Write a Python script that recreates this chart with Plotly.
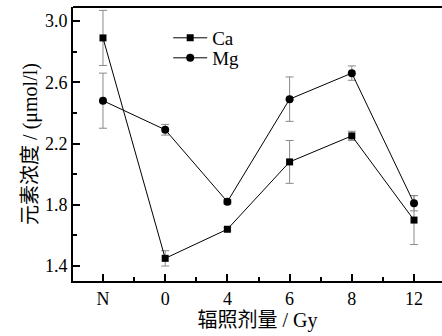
import plotly.graph_objects as go

categories = ["N", "0", "4", "6", "8", "12"]
ca_values = [2.89, 1.45, 1.64, 2.08, 2.25, 1.70]
ca_errors = [0.18, 0.05, 0.01, 0.14, 0.03, 0.16]
mg_values = [2.48, 2.29, 1.82, 2.49, 2.66, 1.81]
mg_errors = [0.18, 0.035, 0.015, 0.145, 0.047, 0.05]
y_ticks = [1.4, 1.8, 2.2, 2.6, 3.0]
y_minor = [1.6, 2.0, 2.4, 2.8]

xpos = list(range(len(categories)))
FONT = "Liberation Serif, Times New Roman, Noto Sans CJK SC"

fig = go.Figure()
fig.add_trace(go.Scatter(
    x=xpos, y=ca_values, name="Ca", mode="lines+markers", legend="legend",
    line=dict(color="black", width=1),
    marker=dict(symbol="square", size=7, color="black"),
    error_y=dict(type="data", array=ca_errors, color="#8a8a8a", thickness=1, width=4),
))
fig.add_trace(go.Scatter(
    x=xpos, y=mg_values, name="Mg", mode="lines+markers", legend="legend2",
    line=dict(color="black", width=1),
    marker=dict(symbol="circle", size=8, color="black"),
    error_y=dict(type="data", array=mg_errors, color="#8a8a8a", thickness=1, width=4),
))

fig.add_shape(type="line", xref="paper", yref="paper", x0=0, x1=1.05, y0=1, y1=1,
              line=dict(color="black", width=2), layer="above")

legend_common = dict(xanchor="left", yanchor="middle", bgcolor="rgba(0,0,0,0)",
                     font=dict(size=19), itemwidth=34, borderwidth=0)

fig.update_layout(
    width=442, height=336,
    margin=dict(l=73, r=0, t=7, b=55, autoexpand=False),
    paper_bgcolor="white", plot_bgcolor="white",
    font=dict(family=FONT, size=18, color="black"),
    showlegend=True,
    legend=dict(x=0.258, y=0.887, **legend_common),
    legend2=dict(x=0.258, y=0.814, **legend_common),
    xaxis=dict(
        range=[-0.482, 5.45], tickmode="array", tickvals=xpos, ticktext=categories,
        ticks="inside", ticklen=7, tickwidth=1.5, tickcolor="black",
        showline=True, linecolor="black", linewidth=2, mirror=False,
        showgrid=False, zeroline=False, automargin=False,
        minor=dict(tickvals=[-0.5 + i for i in range(7)], ticks="inside", ticklen=4,
                   tickwidth=1.5, tickcolor="black", showgrid=False),
        title=dict(text="辐照剂量 / Gy", font=dict(size=20), standoff=2),
        tickfont=dict(size=18),
    ),
    yaxis=dict(
        range=[1.302, 3.092], tickmode="array", tickvals=y_ticks,
        ticktext=[f"{v:.1f}" for v in y_ticks],
        ticks="inside", ticklen=7, tickwidth=1.5, tickcolor="black",
        showline=True, linecolor="black", linewidth=2, mirror=False,
        showgrid=False, zeroline=False, automargin=False,
        minor=dict(tickvals=y_minor, ticks="inside", ticklen=4, tickwidth=1.5,
                   tickcolor="black", showgrid=False),
        title=dict(text="元素浓度 / (μmol/l)", font=dict(size=20), standoff=2),
        tickfont=dict(size=18),
    ),
)

fig.write_html(
    "out.html",
    config={"displayModeBar": False},
    post_script="document.body.style.margin='0';document.body.style.overflow='hidden';",
)
